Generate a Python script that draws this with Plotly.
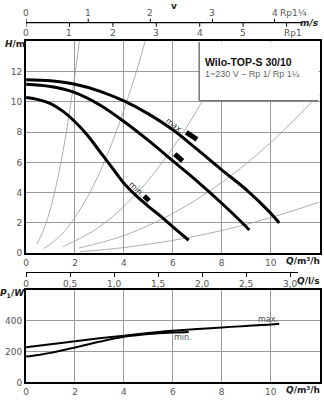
import plotly.graph_objects as go

# ---------------- data ----------------
# pump curves H(Q), Q in m3/h, H in m
q_max = [0, 1, 2, 3, 4, 5, 6, 7, 8, 9, 10, 10.35]
h_max = [11.45, 11.38, 11.15, 10.7, 10.05, 9.2, 8.15, 6.85, 5.5, 4.2, 2.65, 2.0]
q_mid = [0, 1, 2, 3, 4, 5, 6, 7, 8, 9, 9.13]
h_mid = [11.15, 11.0, 10.6, 9.8, 8.7, 7.45, 6.1, 4.75, 3.3, 1.75, 1.53]
q_min = [0, 0.5, 1, 1.5, 2, 2.5, 3, 3.5, 4, 4.5, 5, 5.5, 6, 6.65]
h_min = [10.28, 10.14, 9.88, 9.38, 8.68, 7.8, 6.75, 5.68, 4.62, 3.8, 3.1, 2.45, 1.75, 0.86]

# system curves (thin grey)
sys_q = [
    [0.45, 0.8, 1.2, 1.6, 2.0, 2.19],
    [0.74, 1.5, 2.5, 3.5, 4.5, 4.9],
    [1.5, 3, 4.5, 6, 7.5, 8.5],
    [2.15, 4, 6, 8, 10, 12],
    [2.2, 4, 6, 8, 10, 12],
]
sys_h = [
    [0.6, 1.9, 4.25, 7.55, 11.8, 14.1],
    [0.32, 1.33, 3.69, 7.23, 11.95, 14.17],
    [0.43, 1.74, 3.91, 6.95, 10.86, 13.94],
    [0.34, 1.17, 2.63, 4.67, 7.3, 10.51],
    [0.11, 0.38, 0.85, 1.5, 2.35, 3.38],
]

# speed markers (short thick bars)
mark_q = [[6.55, 6.99], [6.08, 6.40], [4.83, 5.03]]
mark_h = [[7.97, 7.52], [6.55, 6.09], [3.78, 3.47]]

# power curves P1(Q)
q_pmax = [0, 1, 2, 3, 4, 5, 6, 7, 8, 9, 10, 10.35]
p_max = [228, 248, 268, 287, 304, 321, 335, 347, 357, 367, 376, 381]
q_pmin = [0, 0.5, 1, 2, 3, 4, 5, 6, 6.65]
p_min = [168, 179, 192, 227, 264, 296, 314, 324, 328]

# tick labels
q_ticks = [0, 2, 4, 6, 8, 10]
h_ticks = [0, 2, 4, 6, 8, 10, 12]
p_ticks = [0, 200, 400]
ls_ticks = [0, 0.5, 1.0, 1.5, 2.0, 2.5, 3.0]
ls_text = ["0", "0,5", "1,0", "1,5", "2,0", "2,5", "3,0"]
# flow velocity scales (m/s) and the flow (m3/h) that 1 m/s corresponds to
rp1_v = [0, 1, 2, 3, 4, 5, 6]
rp1_text = ["0", "1", "2", "3", "4", "5", ""]
rp1_q_per_v = 1.775
rp114_v = [0, 1, 2, 3, 4]
rp114_text = ["0", "1", "2", "3", "4"]
rp114_q_per_v = 2.54
v_axis_end_q = 11.29

# ---------------- layout helpers ----------------
W, H = 324, 400
def px(x):
    return x / W
def py(y):
    return 1 - y / H

X0, X1 = 23.3, 319.5
FONT = "DejaVu Sans"
TICKC = "#555"
GRID = "#9a9a9a"

fig = go.Figure()

for qs, hs in zip(sys_q, sys_h):
    fig.add_trace(go.Scatter(x=qs, y=hs, mode="lines", xaxis="x", yaxis="y",
                             line=dict(color="#9a9a9a", width=0.8, shape="spline"),
                             hoverinfo="skip", showlegend=False))

for qs, hs in [(q_max, h_max), (q_mid, h_mid), (q_min, h_min)]:
    fig.add_trace(go.Scatter(x=qs, y=hs, mode="lines", xaxis="x", yaxis="y",
                             line=dict(color="black", width=3, shape="spline"),
                             hoverinfo="skip", showlegend=False))

for qs, hs in zip(mark_q, mark_h):
    fig.add_trace(go.Scatter(x=qs, y=hs, mode="lines", xaxis="x", yaxis="y",
                             line=dict(color="black", width=5),
                             hoverinfo="skip", showlegend=False))

for qs, ps in [(q_pmax, p_max), (q_pmin, p_min)]:
    fig.add_trace(go.Scatter(x=qs, y=ps, mode="lines", xaxis="x2", yaxis="y2",
                             line=dict(color="black", width=2, shape="spline"),
                             hoverinfo="skip", showlegend=False))

# dummy trace for the l/s axis
fig.add_trace(go.Scatter(x=[None], y=[None], xaxis="x5", yaxis="y4",
                         showlegend=False, hoverinfo="skip"))

tickfont = dict(family=FONT, size=9, color=TICKC)
main_ax = dict(showline=True, linecolor="black", linewidth=2, mirror=True,
               showgrid=True, gridcolor=GRID, gridwidth=1, zeroline=False,
               ticks="", tickfont=tickfont, fixedrange=True)

ls_per_m3h = 1 / 3.6
ls_x1 = 298.0
px_per_q = (X1 - X0) / 12

fig.update_layout(
    width=W, height=H, margin=dict(l=0, r=0, t=0, b=0),
    paper_bgcolor="white", plot_bgcolor="white",
    xaxis=dict(domain=[px(X0), px(X1)], range=[0, 12], tickvals=q_ticks,
               anchor="y", **main_ax),
    yaxis=dict(domain=[py(256.5), py(41.6)], range=[0, 14], tickvals=h_ticks,
               anchor="x", **main_ax),
    xaxis2=dict(domain=[px(X0), px(X1)], range=[0, 12], tickvals=q_ticks,
                anchor="y2", **main_ax),
    yaxis2=dict(domain=[py(387.3), py(293.7)], range=[0, 600], tickvals=p_ticks,
                anchor="x2", **main_ax),
    yaxis4=dict(domain=[py(275.0), py(274.9)], range=[0, 1], visible=False,
                anchor="x5", fixedrange=True),
    xaxis5=dict(domain=[px(X0), px(ls_x1)],
                range=[0, (ls_x1 - X0) / px_per_q * ls_per_m3h],
                anchor="y4", side="bottom", tickvals=ls_ticks, ticktext=ls_text,
                ticks="outside", ticklen=4, tickwidth=1, tickcolor="black",
                showline=True, linecolor="black", linewidth=1.2, showgrid=False,
                zeroline=False, tickfont=tickfont, fixedrange=True),
)

# velocity axis (drawn on the Q scale of the top chart)
VY = py(23)
fig.add_shape(type="line", xref="x", yref="paper", x0=0, x1=v_axis_end_q,
              y0=VY, y1=VY, line=dict(color="black", width=1.2))
for v, t in zip(rp1_v, rp1_text):
    q = v * rp1_q_per_v
    fig.add_shape(type="line", xref="x", yref="paper", x0=q, x1=q,
                  y0=VY, y1=py(27), line=dict(color="black", width=1))
    if t:
        fig.add_annotation(text=t, x=q, y=py(33), xref="x", yref="paper",
                           xanchor="center", yanchor="middle", showarrow=False,
                           font=dict(family=FONT, size=9, color=TICKC))
for v, t in zip(rp114_v, rp114_text):
    q = v * rp114_q_per_v
    fig.add_shape(type="line", xref="x", yref="paper", x0=q, x1=q,
                  y0=VY, y1=py(19), line=dict(color="black", width=1))
    fig.add_annotation(text=t, x=q, y=py(13), xref="x", yref="paper",
                       xanchor="center", yanchor="middle", showarrow=False,
                       font=dict(family=FONT, size=9, color=TICKC))

# title box (covers grid and system curves)
fig.add_shape(type="rect", xref="paper", yref="paper",
              x0=px(198), x1=px(318.4), y0=py(102), y1=py(42.6),
              fillcolor="white", line=dict(width=0), layer="above")
fig.add_shape(type="line", xref="paper", yref="paper",
              x0=px(198), x1=px(198), y0=py(102), y1=py(42.6),
              line=dict(color="#777", width=1.5), layer="above")
fig.add_shape(type="line", xref="paper", yref="paper",
              x0=px(198), x1=px(318.4), y0=py(102), y1=py(102),
              line=dict(color="#777", width=1.5), layer="above")

def ann(text, x, y, size=9, color="#222", xanchor="center", yanchor="middle",
        angle=0, family=FONT, xref="paper", yref="paper"):
    fig.add_annotation(text=text, x=x, y=y, xref=xref, yref=yref, showarrow=False,
                       xanchor=xanchor, yanchor=yanchor, textangle=angle,
                       font=dict(family=family, size=size, color=color))

ann("<b>v</b>", px(173), py(6), size=9)
ann("Rp1¼", px(293), py(13), color=TICKC)
ann("Rp1", px(293), py(33), color=TICKC)
ann("<b><i>m/s</i></b>", px(321), py(23), xanchor="right")
ann("<b><i>H</i>/m</b>", px(12), py(45))
ann("<b><i>Q</i>/m³/h</b>", px(322), py(264), xanchor="right")
ann("<b><i>Q</i>/l/s</b>", px(322), py(285), xanchor="right")
ann("<b><i>P</i><sub>1</sub>/<i>W</i></b>", px(10), py(297))
ann("<b><i>Q</i>/m³/h</b>", px(322), py(395), xanchor="right")

TF = "Liberation Sans"
ann("<b>Wilo-TOP-S 30/10</b>", px(202), py(63), size=10.5, color="#111",
    xanchor="left", family=TF)
ann("1~230 V – Rp 1/ Rp 1¼", px(202), py(75), size=9, color="#666",
    xanchor="left", family=TF)

ann("max.", 6.07, 8.46, size=8, color="#333", angle=37, xref="x", yref="y")
ann("min.", 4.54, 4.23, size=8, color="#333", angle=44, xref="x", yref="y")
ann("max.", 9.9, 410, size=8, color="#555", xref="x2", yref="y2")
ann("min.", 6.4, 293, size=8, color="#555", xref="x2", yref="y2")

fig.write_html("out.html")
